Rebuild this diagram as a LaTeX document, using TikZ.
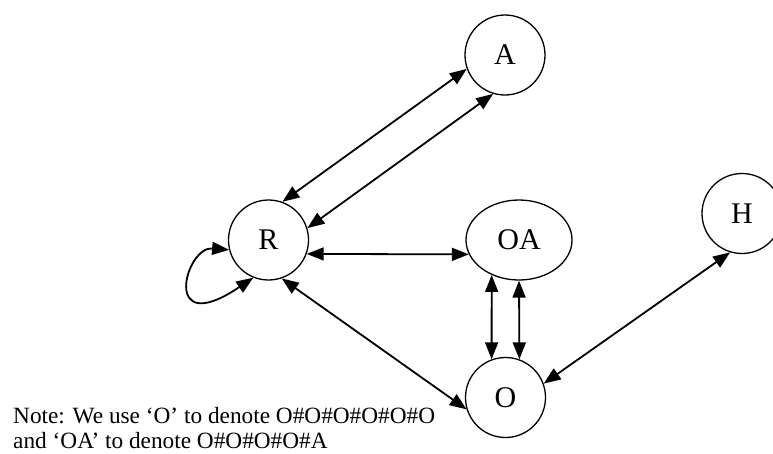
\documentclass[tikz,border=0pt]{standalone}
\usepackage{fontspec}
\setmainfont{Liberation Serif}
\usetikzlibrary{arrows.meta,shapes.geometric}

\tikzset{
  state/.style={draw, circle, line width=1.3pt, minimum size=80pt, inner sep=0pt,
                font=\fontsize{30}{30}\selectfont},
  ovalstate/.style={state, ellipse, minimum width=106pt, minimum height=80pt},
  biarrow/.style={line width=1.8pt,
                  {Triangle[length=17pt,width=13pt]}-{Triangle[length=17pt,width=13pt]}},
  notetext/.style={anchor=base west, inner sep=0pt, font=\fontsize{23.3}{25}\selectfont}
}

\begin{document}
\begin{tikzpicture}[x=1pt, y=-1pt]
  \useasboundingbox (0,0) rectangle (773,453);

  % states
  \node[state]     (A)  at (505,55)     {A};
  \node[state]     (R)  at (268.5,240)  {R};
  \node[ovalstate] (OA) at (519,240)    {OA};
  \node[state]     (H)  at (742,213.5)  {H};
  \node[state]     (O)  at (505.5,397.5){O};

  % transitions
  \draw[biarrow] (R.70) -- (A.200);
  \draw[biarrow] (R.17) -- (A.253);
  \draw[biarrow] (R.-20) -- (OA.196);
  \draw[biarrow] (R.289) -- (O.197);
  \draw[biarrow] (OA.232) -- (O.110);
  \draw[biarrow] (OA.south) -- (O.70);
  \draw[biarrow] (O.20) -- (H.253);
  \draw[biarrow] (R.194) .. controls +(175:44pt) and +(214:112pt) .. (R.248);

  % legend
  \node[notetext] (note1) at (13,423) {Note: We use ‘O’ to denote O\#O\#O\#O\#O\#O};
  \node[notetext] (note2) at (13,448) {and ‘OA’ to denote O\#O\#O\#O\#A};
\end{tikzpicture}
\end{document}
